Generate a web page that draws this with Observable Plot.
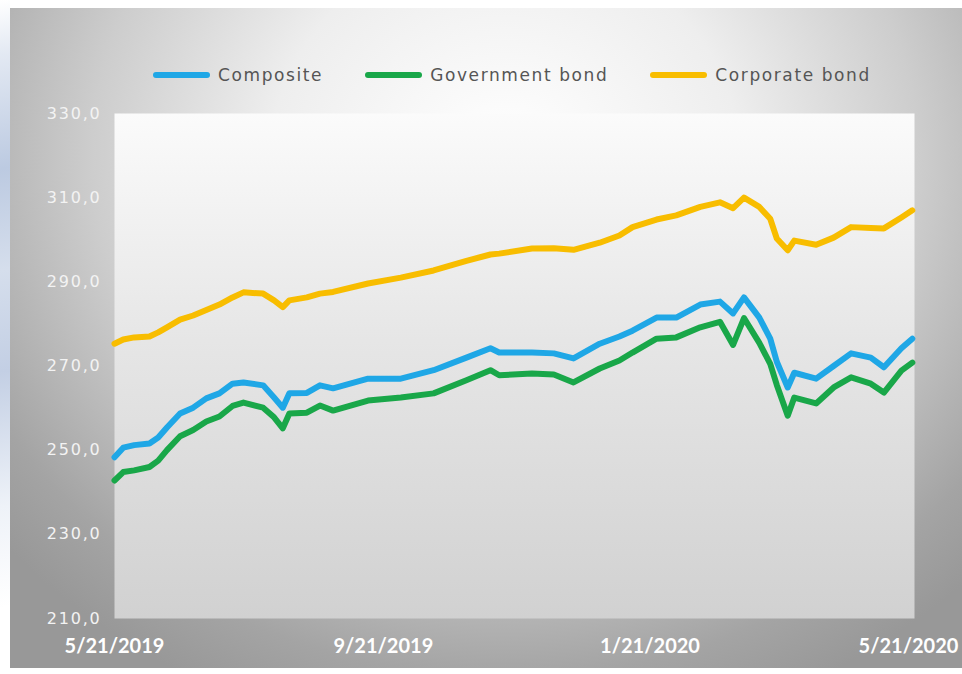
<!DOCTYPE html>
<html>
<head>
<meta charset="utf-8">
<script src="https://cdn.jsdelivr.net/npm/d3@7"></script>
<script src="https://cdn.jsdelivr.net/npm/@observablehq/plot@0.6"></script>
<style>
html, body { margin:0; padding:0; width:962px; height:674px; overflow:hidden; background:#fff; }
#deco { position:absolute; left:0; top:0; width:10px; height:674px;
  background: linear-gradient(170deg, #ffffff 0%, #e3e9f3 8%, #bccae1 25%, #d5deec 40%, #c3cfe4 55%, #eef2f8 75%, #ffffff 90%); }
#frame { position:absolute; left:10px; top:8px; width:952px; height:660px; overflow:hidden;
  background: radial-gradient(ellipse 70% 90% at 52% 22%, #ffffff 0%, #eeeeee 35%, #cdcdcd 62%, #a4a4a4 88%, #989898 100%); }
#legend { position:absolute; left:143px; top:57px; display:flex; align-items:center;
  font-family:"DejaVu Sans", sans-serif; font-size:17px; color:#555; letter-spacing:1.6px; }
.item { display:flex; align-items:center; margin-right:42px; }
.sw { width:57px; height:6px; border-radius:3px; margin-right:8px; }
#chart { position:absolute; left:0; top:0; }
#chart svg { overflow:hidden; }
#chart g[aria-label="y-axis tick label"] text { font-family:"DejaVu Sans", sans-serif; letter-spacing:1.8px; }
#chart g[aria-label="x-axis tick label"] text { font-family:Lato, "Open Sans", sans-serif; font-weight:700; }
</style>
</head>
<body>
<div id="deco"></div>
<div id="frame">
  <div id="chart"></div>
  <div id="legend"></div>
</div>
<script>
const dates = [
  "2019-05-21","2019-05-25","2019-05-30","2019-06-06","2019-06-10","2019-06-14","2019-06-20","2019-06-26",
  "2019-07-02","2019-07-08","2019-07-14","2019-07-19","2019-07-28","2019-08-02","2019-08-06","2019-08-09",
  "2019-08-17","2019-08-23","2019-08-29","2019-09-14","2019-09-29","2019-10-14","2019-10-29","2019-11-09",
  "2019-11-13","2019-11-28","2019-12-08","2019-12-17","2019-12-29","2020-01-07","2020-01-13","2020-01-24",
  "2020-02-02","2020-02-13","2020-02-22","2020-02-28","2020-03-04","2020-03-11","2020-03-16","2020-03-19",
  "2020-03-24","2020-03-27","2020-04-06","2020-04-14","2020-04-22","2020-05-01","2020-05-07","2020-05-15",
  "2020-05-20"
];
const composite = [
  248.3,250.6,251.2,251.6,253.0,255.4,258.7,260.1,
  262.3,263.5,265.8,266.1,265.4,262.5,260.1,263.5,
  263.6,265.4,264.7,267.0,267.0,269.0,272.0,274.2,
  273.2,273.2,273.0,271.8,275.3,277.0,278.4,281.5,
  281.5,284.6,285.3,282.5,286.3,281.5,276.5,271.0,
  264.9,268.4,267.0,270.0,273.0,272.0,269.7,274.2,
  276.5
];
const government = [
  242.8,244.8,245.2,246.0,247.5,250.0,253.3,254.8,
  256.8,258.0,260.5,261.3,260.1,257.8,255.2,258.7,
  258.9,260.6,259.4,261.8,262.5,263.5,266.6,269.0,
  267.8,268.2,268.0,266.1,269.4,271.3,273.2,276.5,
  276.8,279.2,280.5,275.0,281.4,275.5,270.5,265.5,
  258.2,262.5,261.1,264.9,267.3,265.8,263.7,268.9,
  270.8
];
const corporate = [
  275.3,276.3,276.8,277.0,278.0,279.2,281.0,282.0,
  283.3,284.6,286.3,287.5,287.2,285.6,284.0,285.6,
  286.3,287.2,287.6,289.6,291.0,292.7,295.0,296.5,
  296.7,297.9,298.0,297.6,299.3,301.0,303.0,304.8,
  305.8,307.8,308.9,307.5,310.0,307.8,305.0,300.3,
  297.5,299.8,298.8,300.5,303.0,302.8,302.7,305.3,
  307.0
];
const seriesNames = ["Composite", "Government bond", "Corporate bond"];
const seriesColors = ["#1fa7e6", "#19a749", "#f8bd00"];
const yTicks = [210, 230, 250, 270, 290, 310, 330];
const xTickDates = ["2019-05-21", "2019-09-21", "2020-01-21", "2020-05-21"];

const seriesValues = [composite, government, corporate];
const rows = [];
seriesNames.forEach((name, s) => {
  dates.forEach((d, i) => rows.push({ date: new Date(d), value: seriesValues[s][i], series: name }));
});

const fmtDate = d => `${d.getUTCMonth() + 1}/${d.getUTCDate()}/${d.getUTCFullYear()}`;

const plot = Plot.plot({
  width: 952,
  height: 660,
  marginLeft: 104,
  marginRight: 48,
  marginTop: 105,
  marginBottom: 50,
  style: { background: "transparent" },
  x: { type: "utc", domain: [new Date(xTickDates[0]), new Date(xTickDates[3])] },
  y: { domain: [210, 330] },
  color: { domain: seriesNames, range: seriesColors },
  marks: [
    Plot.frame({ fill: "url(#plotGrad)", stroke: null }),
    Plot.axisY({ ticks: yTicks, tickFormat: d => d.toFixed(1).replace(".", ","), tickSize: 0, tickPadding: 13,
      fontSize: 16, fill: "#f3f3f3", label: null }),
    Plot.axisX({ ticks: xTickDates.map(d => new Date(d)), tickFormat: fmtDate, tickSize: 0, tickPadding: 20,
      fontSize: 20, fill: "#ffffff", label: null }),
    Plot.lineY(rows, { x: "date", y: "value", z: "series", stroke: "series", strokeWidth: 6,
      strokeLinejoin: "round", strokeLinecap: "round" })
  ]
});

d3.select(plot).insert("defs", ":first-child").html(
  `<linearGradient id="plotGrad" x1="0" y1="0" x2="0" y2="1">
     <stop offset="0" stop-color="#fbfbfb"/>
     <stop offset="0.45" stop-color="#e6e6e6"/>
     <stop offset="1" stop-color="#d1d1d1"/>
   </linearGradient>`);

// keep the last date label inside the frame
const xLabels = d3.select(plot).selectAll('g[aria-label="x-axis tick label"] text').nodes();
if (xLabels.length) d3.select(xLabels[xLabels.length - 1]).attr("dx", -6);

document.getElementById("chart").appendChild(plot);

const legend = d3.select("#legend");
seriesNames.forEach((name, i) => {
  const it = legend.append("div").attr("class", "item");
  it.append("div").attr("class", "sw").style("background", seriesColors[i]);
  it.append("span").text(name);
});
</script>
</body>
</html>
